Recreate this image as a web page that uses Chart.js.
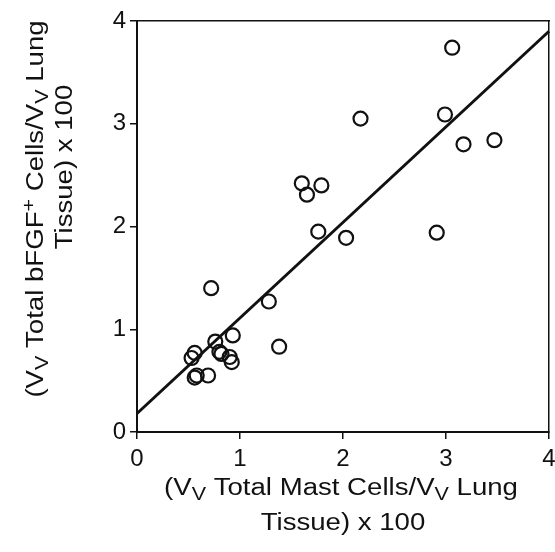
<!DOCTYPE html>
<html>
<head>
<meta charset="utf-8">
<script src="https://cdn.jsdelivr.net/npm/chart.js@4/dist/chart.umd.min.js"></script>
<style>
html,body{margin:0;padding:0;background:#fff;}
#wrap{width:555px;height:552px;position:relative;}
</style>
</head>
<body>
<div id="wrap"><canvas id="c"></canvas></div>
<script>
// Data
const mastCells = [3.06, 2.99, 2.17, 3.17, 3.47, 1.60, 1.65, 1.79, 1.76, 2.03, 2.91, 0.72, 1.28, 1.38, 0.93, 0.76, 0.80, 0.82, 0.90, 0.92, 0.56, 0.53, 0.56, 0.58, 0.69];
const bfgfCells = [3.74, 3.09, 3.05, 2.80, 2.84, 2.42, 2.31, 2.40, 1.95, 1.89, 1.94, 1.40, 1.27, 0.83, 0.94, 0.88, 0.78, 0.76, 0.73, 0.68, 0.77, 0.72, 0.53, 0.55, 0.55];
const fitX = [0, 4];
const fitY = [0.18, 3.90];
const xTicks = [0, 1, 2, 3, 4];
const yTicks = [0, 1, 2, 3, 4];
const xTitle = [[["(V", ""], ["V", "sub"], [" Total Mast Cells/V", ""], ["V", "sub"], [" Lung", ""]], [["Tissue) x 100", ""]]];
const yTitle = [[["(V", ""], ["V", "sub"], [" Total bFGF", ""], ["+", "sup"], [" Cells/V", ""], ["V", "sub"], [" Lung", ""]], [["Tissue) x 100", ""]]];

const FONT = "Liberation Sans, Arial, Helvetica, sans-serif";
const TSIZE = 23;
const STRETCH = 1.2;

function drawRuns(ctx, runs, cx, cy, size) {
  let total = 0;
  const parts = runs.map(([t, k]) => {
    const s = k ? size * 0.78 : size;
    ctx.font = s + "px " + FONT;
    const w = ctx.measureText(t).width;
    total += w;
    return {t, k, s, w};
  });
  ctx.save();
  ctx.translate(cx, cy);
  ctx.scale(STRETCH, 1);
  let x = -total / 2;
  ctx.textBaseline = "alphabetic";
  ctx.textAlign = "left";
  const base = size * 0.36;
  parts.forEach(p => {
    ctx.font = p.s + "px " + FONT;
    let y = base;
    if (p.k === "sub") y = base + size * 0.2;
    if (p.k === "sup") y = base - size * 0.35;
    ctx.fillText(p.t, x, y);
    x += p.w;
  });
  ctx.restore();
}

const titlePlugin = {
  id: "titles",
  afterDraw(chart) {
    const ctx = chart.ctx;
    ctx.save();
    ctx.fillStyle = "#111";
    drawRuns(ctx, xTitle[0], 341, 487, TSIZE);
    drawRuns(ctx, xTitle[1], 343, 522, TSIZE);
    ctx.save();
    ctx.translate(35, 209);
    ctx.rotate(-Math.PI / 2);
    drawRuns(ctx, yTitle[0], 0, 0, TSIZE);
    ctx.restore();
    ctx.save();
    ctx.translate(64, 167);
    ctx.rotate(-Math.PI / 2);
    drawRuns(ctx, yTitle[1], 0, 0, TSIZE);
    ctx.restore();
    ctx.restore();
  }
};

const points = mastCells.map((x, i) => ({x, y: bfgfCells[i]}));
const fit = fitX.map((x, i) => ({x, y: fitY[i]}));

new Chart(document.getElementById("c"), {
  type: "scatter",
  data: {
    datasets: [
      {
        type: "scatter",
        data: points,
        pointStyle: "circle",
        pointRadius: 7,
        pointBorderWidth: 2.2,
        pointBorderColor: "#111",
        pointBackgroundColor: "rgba(0,0,0,0)",
        clip: false
      },
      {
        type: "line",
        data: fit,
        borderColor: "#111",
        borderWidth: 3,
        pointRadius: 0,
        fill: false,
        clip: false
      }
    ]
  },
  options: {
    responsive: true,
    maintainAspectRatio: false,
    animation: false,
    layout: {autoPadding: false, padding: {top: 21, right: 6, left: 0, bottom: 0}},
    plugins: {legend: {display: false}, tooltip: {enabled: false}},
    scales: {
      x: {
        type: "linear",
        position: "bottom",
        min: 0, max: 4,
        afterFit(s) { s.height = 120; s.paddingLeft = 0; s.paddingRight = 0; },
        afterBuildTicks(s) { s.ticks = xTicks.map(v => ({value: v})); },
        grid: {display: true, drawOnChartArea: false, drawTicks: true, tickLength: 7, color: "#111", lineWidth: 1.5},
        border: {display: true, color: "#111", width: 2},
        ticks: {color: "#111", font: {family: FONT, size: 24}, padding: 6, maxRotation: 0}
      },
      y: {
        type: "linear",
        position: "left",
        min: 0, max: 4,
        afterFit(s) { s.width = 137; s.paddingTop = 0; s.paddingBottom = 0; },
        afterBuildTicks(s) { s.ticks = yTicks.map(v => ({value: v})); },
        grid: {display: true, drawOnChartArea: false, drawTicks: true, tickLength: 7, color: "#111", lineWidth: 1.5},
        border: {display: true, color: "#111", width: 2},
        ticks: {color: "#111", font: {family: FONT, size: 24}, padding: 4}
      },
      x2: {
        type: "linear",
        position: "top",
        min: 0, max: 4,
        afterFit(s) { s.height = 0; s.paddingLeft = 0; s.paddingRight = 0; },
        grid: {display: false},
        border: {display: true, color: "#111", width: 1.5},
        ticks: {display: false}
      },
      y2: {
        type: "linear",
        position: "right",
        min: 0, max: 4,
        afterFit(s) { s.width = 0; s.paddingTop = 0; s.paddingBottom = 0; },
        grid: {display: false},
        border: {display: true, color: "#111", width: 1.5},
        ticks: {display: false}
      }
    }
  },
  plugins: [titlePlugin]
});
</script>
</body>
</html>
